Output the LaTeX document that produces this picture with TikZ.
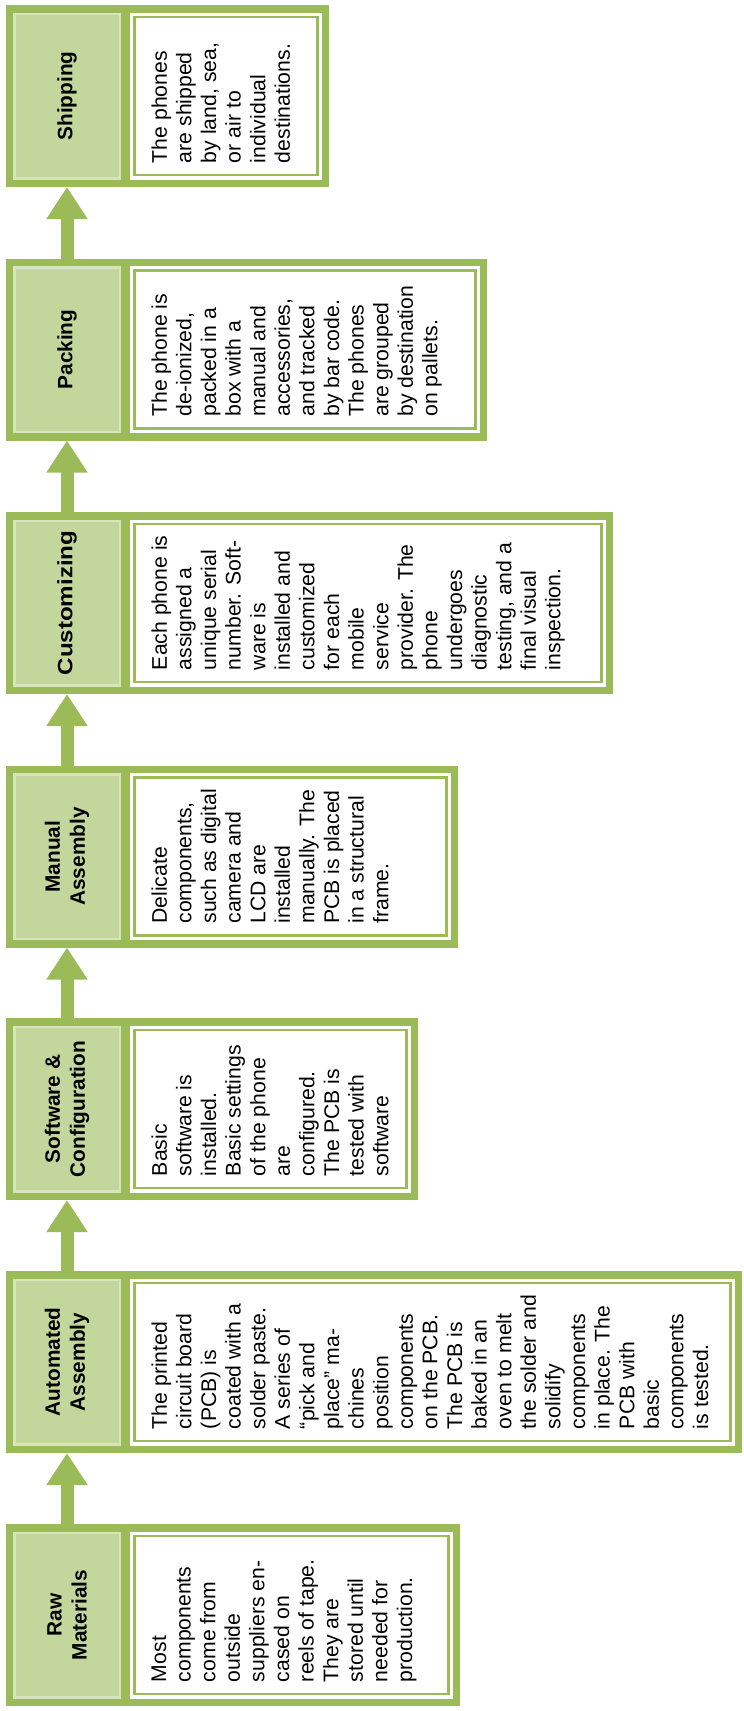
\documentclass[tikz,border=0pt]{standalone}
\usepackage{fontspec}
\setmainfont{Liberation Sans}
\usetikzlibrary{arrows.meta}
\definecolor{grn}{HTML}{9BBB59}
\definecolor{lgrn}{HTML}{C3D69B}
\definecolor{pgrn}{HTML}{D7E4BD}
\newcommand\labfont{\fontsize{20.8}{25}\selectfont\bfseries}
\newcommand\descfont{\fontsize{21.2}{24.6}\selectfont}
\newcommand\mkstage[5]{%
  \pgfmathsetmacro\bw{#3-6}%
  \pgfmathsetmacro\dcx{(130+#3-7)/2}%
  \pgfmathsetmacro\dw{#3-7-130-9.1}%
  \node[outerbox, minimum width=\bw pt] (#1) at (6,#2) {};
  \node[labbox] (#1lab) at (67,#2+91) {#4};
  \node[descbox, minimum width=\dw pt] (#1box) at (\dcx,#2+91) {};
  \node[desctext] (#1txt) at (151.5,#2+158) {#5};
}
\begin{document}
\begin{tikzpicture}[x=1pt,y=-1pt,
  outerbox/.style={fill=grn, draw=none, inner sep=0pt, outer sep=0pt, anchor=north west, minimum height=182pt},
  labbox/.style={fill=lgrn, draw=pgrn, line width=2.5pt, inner sep=0pt, outer sep=0pt,
     rotate=90, minimum width=164.5pt, minimum height=105.5pt, font=\labfont, align=center, text=black},
  descbox/.style={fill=white, draw=white, line width=3.3pt, double=grn, double distance=2.5pt,
     inner sep=0pt, outer sep=0pt, minimum height=157.9pt},
  desctext/.style={rotate=90, anchor=north west, inner sep=0pt, outer sep=0pt, align=left, font=\descfont, text=black},
  arr/.style={draw=grn, line width=13pt, -{Triangle[width=39pt,length=32pt]}}
]
\useasboundingbox (0,0) rectangle (744,1711);

\mkstage{ship}{5}{329}{Shipping}{The phones\\are shipped\\by land, sea,\\or air to\\individual\\destinations.}
\mkstage{pack}{258.5}{487}{Packing}{The phone is\\de-ionized,\\packed in a\\box with a\\manual and\\accessories,\\and tracked\\by bar code.\\The phones\\are grouped\\by destination\\on pallets.}
\mkstage{cust}{512}{613}{\scalebox{1.16}[1]{Customizing}}{Each phone is\\assigned a\\unique serial\\number. Soft-\\ware is\\installed and\\customized\\for each\\mobile\\service\\provider. The\\phone\\undergoes\\diagnostic\\testing, and a\\final visual\\inspection.}
\mkstage{man}{765.5}{458}{Manual\\Assembly}{Delicate\\components,\\such as digital\\camera and\\LCD are\\installed\\manually. The\\PCB is placed\\in a structural\\frame.}
\mkstage{soft}{1018}{418}{Software \&\\Configuration}{Basic\\software is\\installed.\\Basic settings\\of the phone\\are\\configured.\\The PCB is\\tested with\\software}
\mkstage{auto}{1271}{742}{Automated\\Assembly}{The printed\\circuit board\\(PCB) is\\coated with a\\solder paste.\\A series of\\“pick and\\place” ma-\\chines\\position\\components\\on the PCB.\\The PCB is\\baked in an\\oven to melt\\the solder and\\solidify\\components\\in place. The\\PCB with\\basic\\components\\is tested.}
\mkstage{raw}{1524}{460}{Raw\\Materials}{Most\\components\\come from\\outside\\suppliers en-\\cased on\\reels of tape.\\They are\\stored until\\needed for\\production.}

\draw[arr] (rawlab |- raw.north) -- (autolab |- auto.south);
\draw[arr] (autolab |- auto.north) -- (softlab |- soft.south);
\draw[arr] (softlab |- soft.north) -- (manlab |- man.south);
\draw[arr] (manlab |- man.north) -- (custlab |- cust.south);
\draw[arr] (custlab |- cust.north) -- (packlab |- pack.south);
\draw[arr] (packlab |- pack.north) -- (shiplab |- ship.south);
\end{tikzpicture}
\end{document}
